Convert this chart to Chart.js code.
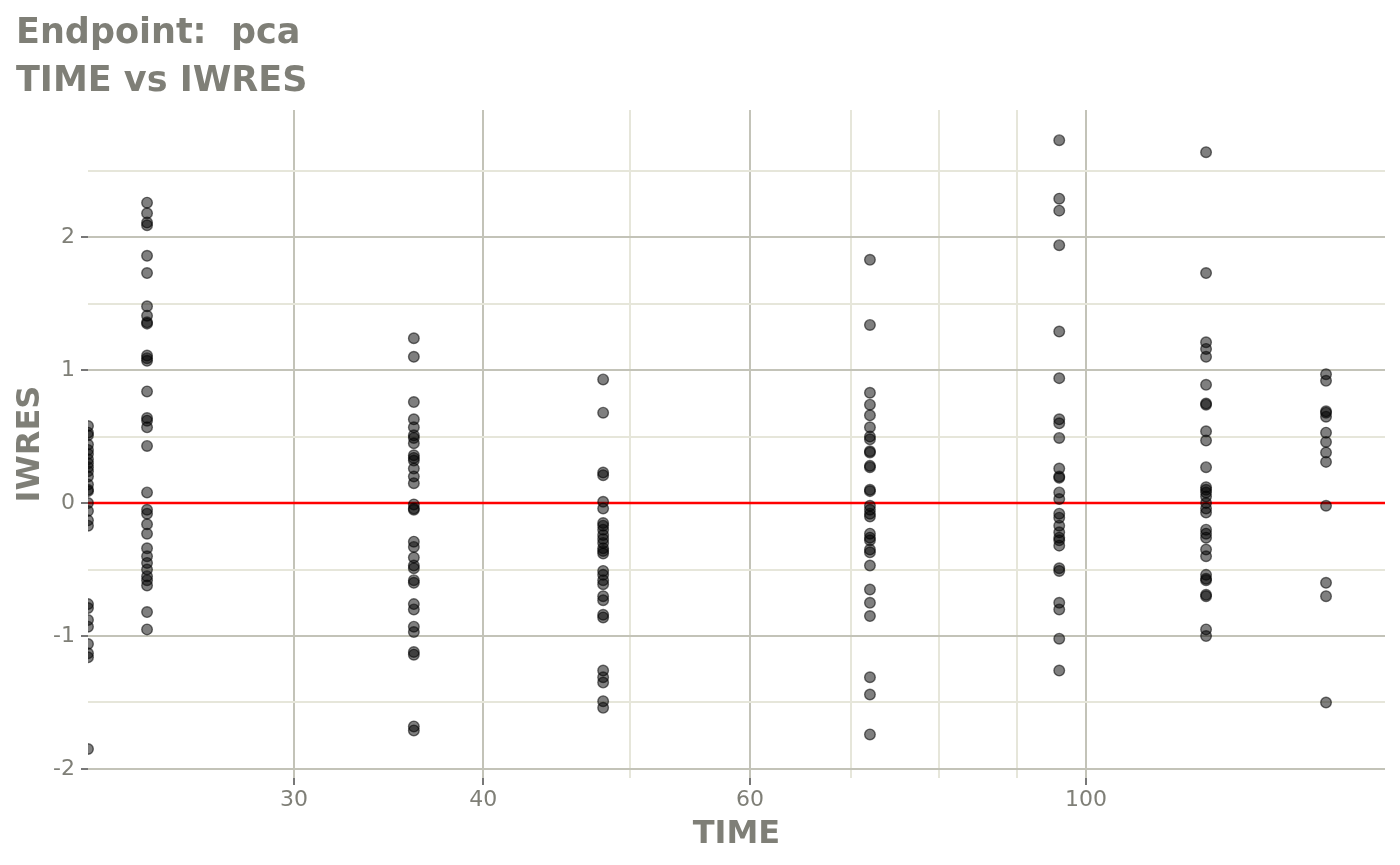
<!DOCTYPE html>
<html>
<head>
<meta charset="utf-8">
<script src="https://cdn.jsdelivr.net/npm/chart.js@4"></script>
<style>
  html, body { margin: 0; padding: 0; background: #ffffff; }
</style>
</head>
<body>
<canvas id="chart" width="1400" height="865"></canvas>
<script>
// sampling times (TIME = 0 sits at the left edge of the log axis)
const times = [0, 24, 36, 48, 72, 96, 120, 144];

// IWRES by time
const iwres0 = [0.58, 0.53, 0.51, 0.44, 0.40, 0.37, 0.33, 0.30, 0.27, 0.24, 0.20, 0.14, 0.10, 0.09, 0.00, -0.06, -0.13, -0.17, -0.76, -0.79, -0.88, -0.93, -1.06, -1.13, -1.16, -1.85];
const iwres24 = [2.26, 2.18, 2.11, 2.09, 1.86, 1.73, 1.48, 1.41, 1.36, 1.35, 1.11, 1.09, 1.07, 0.84, 0.64, 0.62, 0.57, 0.43, 0.08, -0.05, -0.08, -0.16, -0.23, -0.34, -0.40, -0.45, -0.50, -0.55, -0.58, -0.62, -0.82, -0.95];
const iwres36 = [1.24, 1.10, 0.76, 0.63, 0.57, 0.51, 0.49, 0.45, 0.36, 0.34, 0.32, 0.26, 0.20, 0.15, -0.01, -0.04, -0.05, -0.29, -0.33, -0.41, -0.47, -0.49, -0.58, -0.60, -0.76, -0.80, -0.93, -0.97, -1.12, -1.14, -1.68, -1.71];
const iwres48 = [0.93, 0.68, 0.23, 0.21, 0.01, -0.04, -0.15, -0.17, -0.20, -0.24, -0.27, -0.30, -0.34, -0.36, -0.38, -0.51, -0.54, -0.58, -0.61, -0.70, -0.73, -0.84, -0.86, -1.26, -1.31, -1.35, -1.49, -1.54];
const iwres72 = [1.83, 1.34, 0.83, 0.74, 0.66, 0.57, 0.50, 0.48, 0.39, 0.38, 0.28, 0.27, 0.10, 0.09, -0.02, -0.05, -0.08, -0.10, -0.23, -0.26, -0.28, -0.35, -0.37, -0.47, -0.65, -0.75, -0.85, -1.31, -1.44, -1.74];
const iwres96 = [2.73, 2.29, 2.20, 1.94, 1.29, 0.94, 0.63, 0.60, 0.49, 0.26, 0.20, 0.19, 0.08, 0.03, -0.08, -0.11, -0.17, -0.22, -0.26, -0.28, -0.32, -0.49, -0.51, -0.75, -0.80, -1.02, -1.26];
const iwres120 = [2.64, 1.73, 1.21, 1.16, 1.10, 0.89, 0.75, 0.74, 0.54, 0.47, 0.27, 0.12, 0.10, 0.08, 0.05, 0.00, -0.04, -0.07, -0.20, -0.23, -0.26, -0.35, -0.40, -0.54, -0.57, -0.58, -0.69, -0.70, -0.95, -1.00];
const iwres144 = [0.97, 0.92, 0.69, 0.68, 0.65, 0.53, 0.46, 0.38, 0.31, -0.02, -0.60, -0.70, -1.50];

const xMajorTicks = [30, 40, 60, 100];
const xMinorTicks = [50, 70, 80, 90];
const yMajorTicks = [-2, -1, 0, 1, 2];
const yMinorTicks = [-1.5, -0.5, 0.5, 1.5, 2.5];

const X_MIN = 21.94, X_MAX = 157.5;
const Y_MIN = -2.068, Y_MAX = 2.957;

const groups = [iwres0, iwres24, iwres36, iwres48, iwres72, iwres96, iwres120, iwres144];
const points = [];
groups.forEach((vals, i) => {
  vals.forEach(v => points.push({ x: times[i], y: v }));
});

const grey = '#7f7f77';
const majorGrid = '#c3c3b8';
const minorGrid = '#e6e6da';

new Chart(document.getElementById('chart'), {
  type: 'scatter',
  data: {
    datasets: [
      {
        data: points,
        pointRadius: 5.3,
        pointBorderWidth: 1.4,
        pointBackgroundColor: 'rgba(0,0,0,0.5)',
        pointBorderColor: 'rgba(0,0,0,0.55)',
        clip: 0,
      },
      {
        type: 'line',
        data: [{ x: X_MIN, y: 0 }, { x: X_MAX, y: 0 }],
        borderColor: '#ff0000',
        borderWidth: 2.5,
        pointRadius: 0,
        clip: 0,
      },
    ],
  },
  options: {
    responsive: false,
    animation: false,
    layout: { padding: { left: 16, right: 15, top: 0, bottom: 0 } },
    plugins: {
      legend: { display: false },
      tooltip: { enabled: false },
      title: {
        display: true,
        text: ['Endpoint:  pca', 'TIME vs IWRES'],
        align: 'start',
        color: grey,
        font: { family: 'DejaVu Sans', size: 35, weight: 'bold', lineHeight: '48px' },
        padding: { top: 10, bottom: 4 },
      },
    },
    scales: {
      x: {
        type: 'logarithmic',
        min: X_MIN,
        max: X_MAX,
        afterBuildTicks: (scale) => {
          scale.ticks = [...xMajorTicks, ...xMinorTicks].sort((a, b) => a - b).map(v => ({ value: v }));
        },
        afterFit: (scale) => { scale.height = 87; },
        ticks: {
          autoSkip: false,
          maxRotation: 0,
          padding: 2,
          color: grey,
          font: { family: 'DejaVu Sans', size: 22, lineHeight: 1.2 },
          callback: (v) => xMajorTicks.includes(v) ? String(v) : '',
        },
        grid: {
          lineWidth: 2,
          tickLength: 7,
          color: (ctx) => ctx.tick && xMajorTicks.includes(ctx.tick.value) ? majorGrid : minorGrid,
          tickColor: (ctx) => ctx.tick && xMajorTicks.includes(ctx.tick.value) ? '#777777' : 'rgba(0,0,0,0)',
        },
        border: { display: false },
        title: {
          display: true,
          text: 'TIME',
          color: grey,
          font: { family: 'DejaVu Sans', size: 32, weight: 'bold', lineHeight: 1.2 },
          padding: { top: 0, bottom: 11 },
        },
      },
      y: {
        type: 'linear',
        min: Y_MIN,
        max: Y_MAX,
        afterBuildTicks: (scale) => {
          scale.ticks = [...yMajorTicks, ...yMinorTicks].sort((a, b) => a - b).map(v => ({ value: v }));
        },
        afterFit: (scale) => { scale.width = 72; },
        ticks: {
          autoSkip: false,
          padding: 6,
          color: grey,
          font: { family: 'DejaVu Sans', size: 22 },
          callback: (v) => yMajorTicks.includes(v) ? String(v) : '',
        },
        grid: {
          lineWidth: 2,
          tickLength: 7,
          color: (ctx) => ctx.tick && yMajorTicks.includes(ctx.tick.value) ? majorGrid : minorGrid,
          tickColor: (ctx) => ctx.tick && yMajorTicks.includes(ctx.tick.value) ? '#777777' : 'rgba(0,0,0,0)',
        },
        border: { display: false },
        title: {
          display: true,
          text: 'IWRES',
          color: grey,
          font: { family: 'DejaVu Sans', size: 32, weight: 'bold', lineHeight: 0.9 },
          padding: { top: 0, bottom: 0 },
        },
      },
    },
  },
});
</script>
</body>
</html>
